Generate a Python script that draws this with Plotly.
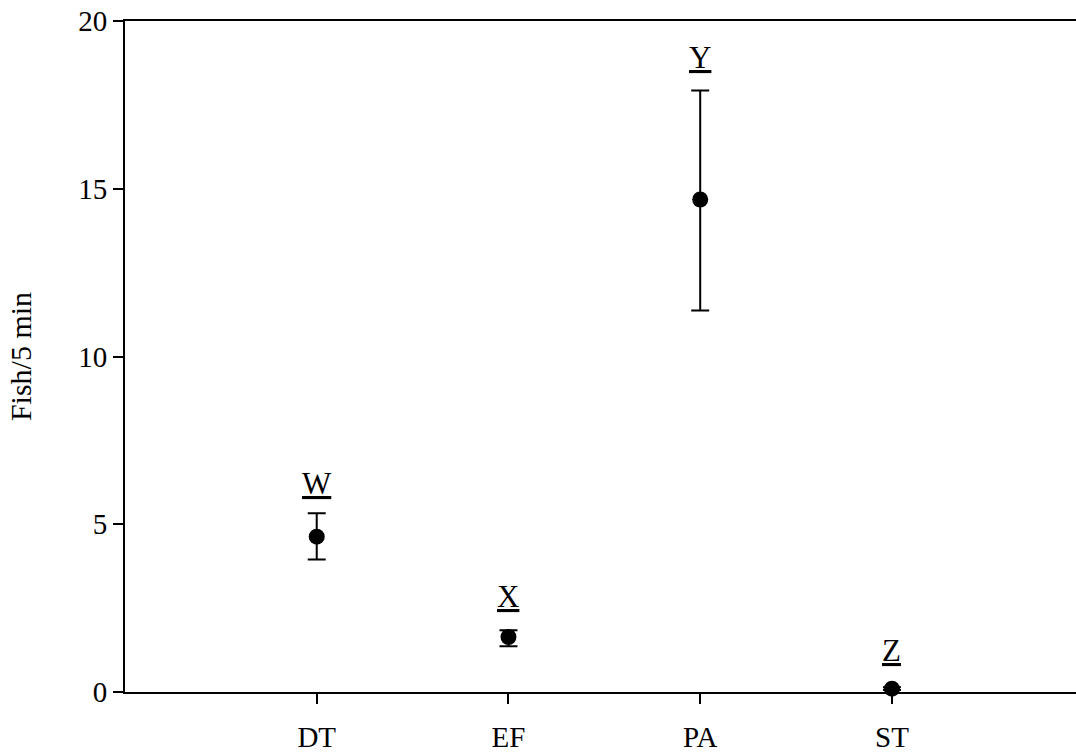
import plotly.graph_objects as go

# Fish counts per 5 min by method (mean with error bars)
methods = ["DT", "EF", "PA", "ST"]
means = [4.63, 1.64, 14.68, 0.10]
err_hi = [0.70, 0.20, 3.25, 0.04]
err_lo = [0.68, 0.28, 3.31, 0.04]
letters = ["W", "X", "Y", "Z"]
letter_y = [6.2, 2.85, 18.9, 1.25]

font = "Liberation Serif, Times New Roman, serif"

fig = go.Figure()

fig.add_trace(go.Scatter(
    x=methods,
    y=means,
    mode="markers",
    marker=dict(size=16, color="black"),
    error_y=dict(type="data", array=err_hi, arrayminus=err_lo,
                 color="black", thickness=2, width=9),
    showlegend=False,
    cliponaxis=False,
))

for m, t, ly in zip(methods, letters, letter_y):
    fig.add_annotation(x=m, y=ly, text="<u>" + t + "</u>", showarrow=False,
                       font=dict(family=font, size=31, color="black"),
                       yanchor="middle")

fig.update_layout(
    width=1076, height=753,
    margin=dict(l=125, r=0, t=21, b=61),
    plot_bgcolor="white", paper_bgcolor="white",
    font=dict(family=font, size=29, color="black"),
)

fig.update_xaxes(
    type="category", range=[-1, 3.96],
    showline=True, linecolor="black", linewidth=2, mirror=True,
    ticks="outside", ticklen=10, tickwidth=2, tickcolor="black",
    showgrid=False, zeroline=False,
    tickfont=dict(size=29), ticklabelstandoff=8,
)
fig.update_yaxes(
    range=[0, 20], tickvals=[0, 5, 10, 15, 20],
    showline=True, linecolor="black", linewidth=2,
    ticks="outside", ticklen=10, tickwidth=2, tickcolor="black",
    showgrid=False, zeroline=False,
    tickfont=dict(size=29),
    title=dict(text="Fish/5 min", font=dict(size=30), standoff=38),
)

fig.write_html("out.html", config={"displayModeBar": False},
               post_script="document.body.style.margin='0';")
